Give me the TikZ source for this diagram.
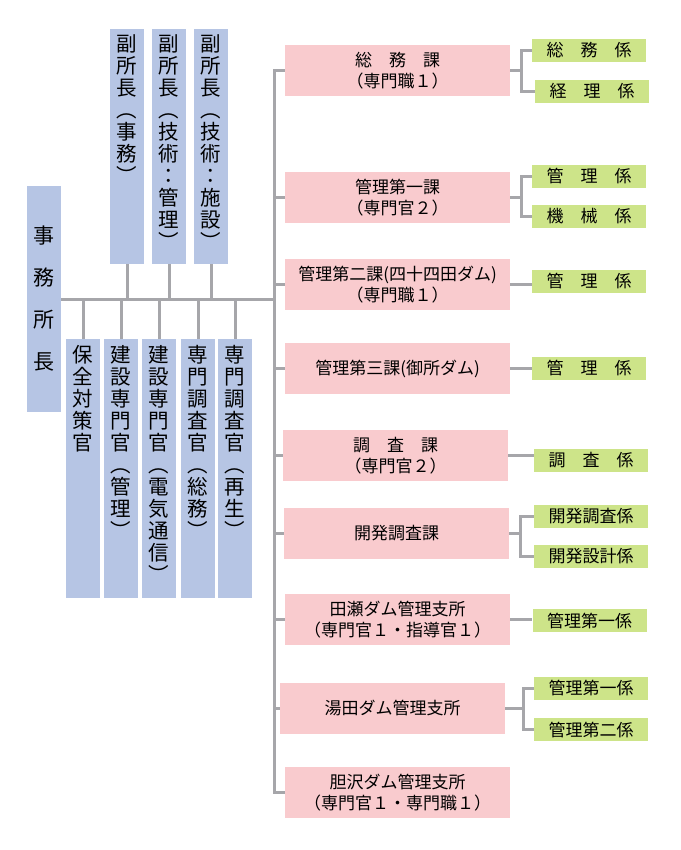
\documentclass[tikz,border=0pt]{standalone}
\usepackage{fontspec}
\setmainfont{Noto Sans CJK JP}
\definecolor{bluebox}{RGB}{182,197,228}
\definecolor{pinkbox}{RGB}{249,203,206}
\definecolor{greenbox}{RGB}{205,228,137}
\definecolor{linegray}{RGB}{166,166,170}
\tikzset{
	vbox/.style={fill=bluebox, minimum width=34pt, inner sep=0pt},
	vtext/.style={inner sep=0pt, align=center, font=\fontsize{20.5}{22}\selectfont},
	ka/.style={fill=pinkbox, minimum width=225pt, minimum height=51pt, inner sep=0pt, align=center, font=\fontsize{17}{21}\selectfont},
	kakari/.style={fill=greenbox, minimum width=114pt, minimum height=23pt, inner sep=0pt, font=\fontsize{17}{20}\selectfont},
	conn/.style={draw=linegray, line width=3pt},
}
\begin{document}
\begin{tikzpicture}[x=1pt,y=-1pt]
	\useasboundingbox (0,0) rectangle (680,850);

	% left side
	\node[vbox, minimum height=226pt, align=center, font=\fontsize{21}{42}\selectfont] (shochou) at (44,299) {事\\務\\所\\長};
	\foreach \n/\x/\t in {fuku1/127/{副\\所\\長\\︵\\事\\務\\︶},
			fuku2/169/{副\\所\\長\\︵\\技\\術\\：\\管\\理\\︶},
			fuku3/211/{副\\所\\長\\︵\\技\\術\\：\\施\\設\\︶}}{
			\node[vbox, minimum height=235pt, anchor=north] (\n) at (\x,29) {};
			\node[vtext, anchor=north] (\n-t) at ([yshift=-5pt]\n.north) {\t};
		}
	\foreach \n/\x/\t in {hozen/83/{保\\全\\対\\策\\官},
			kensetsu1/121/{建\\設\\専\\門\\官\\︵\\管\\理\\︶},
			kensetsu2/159/{建\\設\\専\\門\\官\\︵\\電\\気\\通\\信\\︶},
			senmon1/198/{専\\門\\調\\査\\官\\︵\\総\\務\\︶},
			senmon2/235/{専\\門\\調\\査\\官\\︵\\再\\生\\︶}}{
			\node[vbox, minimum height=259pt, anchor=north] (\n) at (\x,339) {};
			\node[vtext, anchor=north] (\n-t) at ([yshift=-6pt]\n.north) {\t};
		}

	% ka
	\node[ka] (soumu) at (397.5,70.5) {総　務　課\\（専門職１）};
	\node[ka] (kanri1) at (397.5,197.5) {管理第一課\\（専門官２）};
	\node[ka] (kanri2) at (397.5,284.5) {管理第二課(四十四田ダム)\\（専門職１）};
	\node[ka] (kanri3) at (397.5,368.5) {管理第三課(御所ダム)};
	\node[ka] (chousa) at (395.5,455.5) {調　査　課\\（専門官２）};
	\node[ka] (kaihatsu) at (396.5,533.5) {開発調査課};
	\node[ka] (tase) at (397.5,619.5) {田瀬ダム管理支所\\（専門官１・指導官１）};
	\node[ka] (yuda) at (392.5,708.5) {湯田ダム管理支所};
	\node[ka] (isawa) at (397.5,792.5) {胆沢ダム管理支所\\（専門官１・専門職１）};

	% kakari
	\node[kakari] (gsoumu) at (589,50.5) {総　務　係};
	\node[kakari] (gkeiri) at (592,91.5) {経　理　係};
	\node[kakari] (gkanri1) at (589,176.5) {管　理　係};
	\node[kakari] (gkikai) at (589,216.5) {機　械　係};
	\node[kakari] (gkanri2) at (589,281.5) {管　理　係};
	\node[kakari] (gkanri3) at (589,368.5) {管　理　係};
	\node[kakari] (gchousa) at (591,460.5) {調　査　係};
	\node[kakari] (gkchousa) at (591,516) {開発調査係};
	\node[kakari] (gksekkei) at (591,556.5) {開発設計係};
	\node[kakari] (gtase) at (589.5,620.5) {管理第一係};
	\node[kakari] (gyuda1) at (591,688) {管理第一係};
	\node[kakari] (gyuda2) at (591,729.5) {管理第二係};

	% lines
	\draw[conn] (soumu.west) -- ++(-10.5,0) coordinate (t0) |- (isawa.west);
	\foreach \n in {kanri1,kanri2,kanri3,chousa,kaihatsu,tase,yuda}
		\draw[conn] (\n.west) -- (\n.west -| t0);
	\draw[conn] (shochou.east) -- (shochou.east -| t0);
	\foreach \n in {fuku1,fuku2,fuku3}
		\draw[conn] (\n.south) -- (\n.south |- shochou.east);
	\foreach \n in {hozen,kensetsu1,kensetsu2,senmon1,senmon2}
		\draw[conn] (\n.north) -- (\n.north |- shochou.east);

	\draw[conn] (soumu.east) -- ++(11,0) coordinate (f1) |- (gsoumu.west);
	\draw[conn] (f1) |- (gkeiri.west);
	\draw[conn] (kanri1.east) -- ++(11,0) coordinate (f2) |- (gkanri1.west);
	\draw[conn] (f2) |- (gkikai.west);
	\draw[conn] (kaihatsu.east) -- ++(11,0) coordinate (f3) |- (gkchousa.west);
	\draw[conn] (f3) |- (gksekkei.west);
	\draw[conn] (yuda.east) -- ++(18,0) coordinate (f4) |- (gyuda1.west);
	\draw[conn] (f4) |- (gyuda2.west);
	\draw[conn] (kanri2.east) -- (kanri2.east -| gkanri2.west);
	\draw[conn] (kanri3.east) -- (kanri3.east -| gkanri3.west);
	\draw[conn] (chousa.east) -- (chousa.east -| gchousa.west);
	\draw[conn] (tase.east) -- (tase.east -| gtase.west);
\end{tikzpicture}
\end{document}
